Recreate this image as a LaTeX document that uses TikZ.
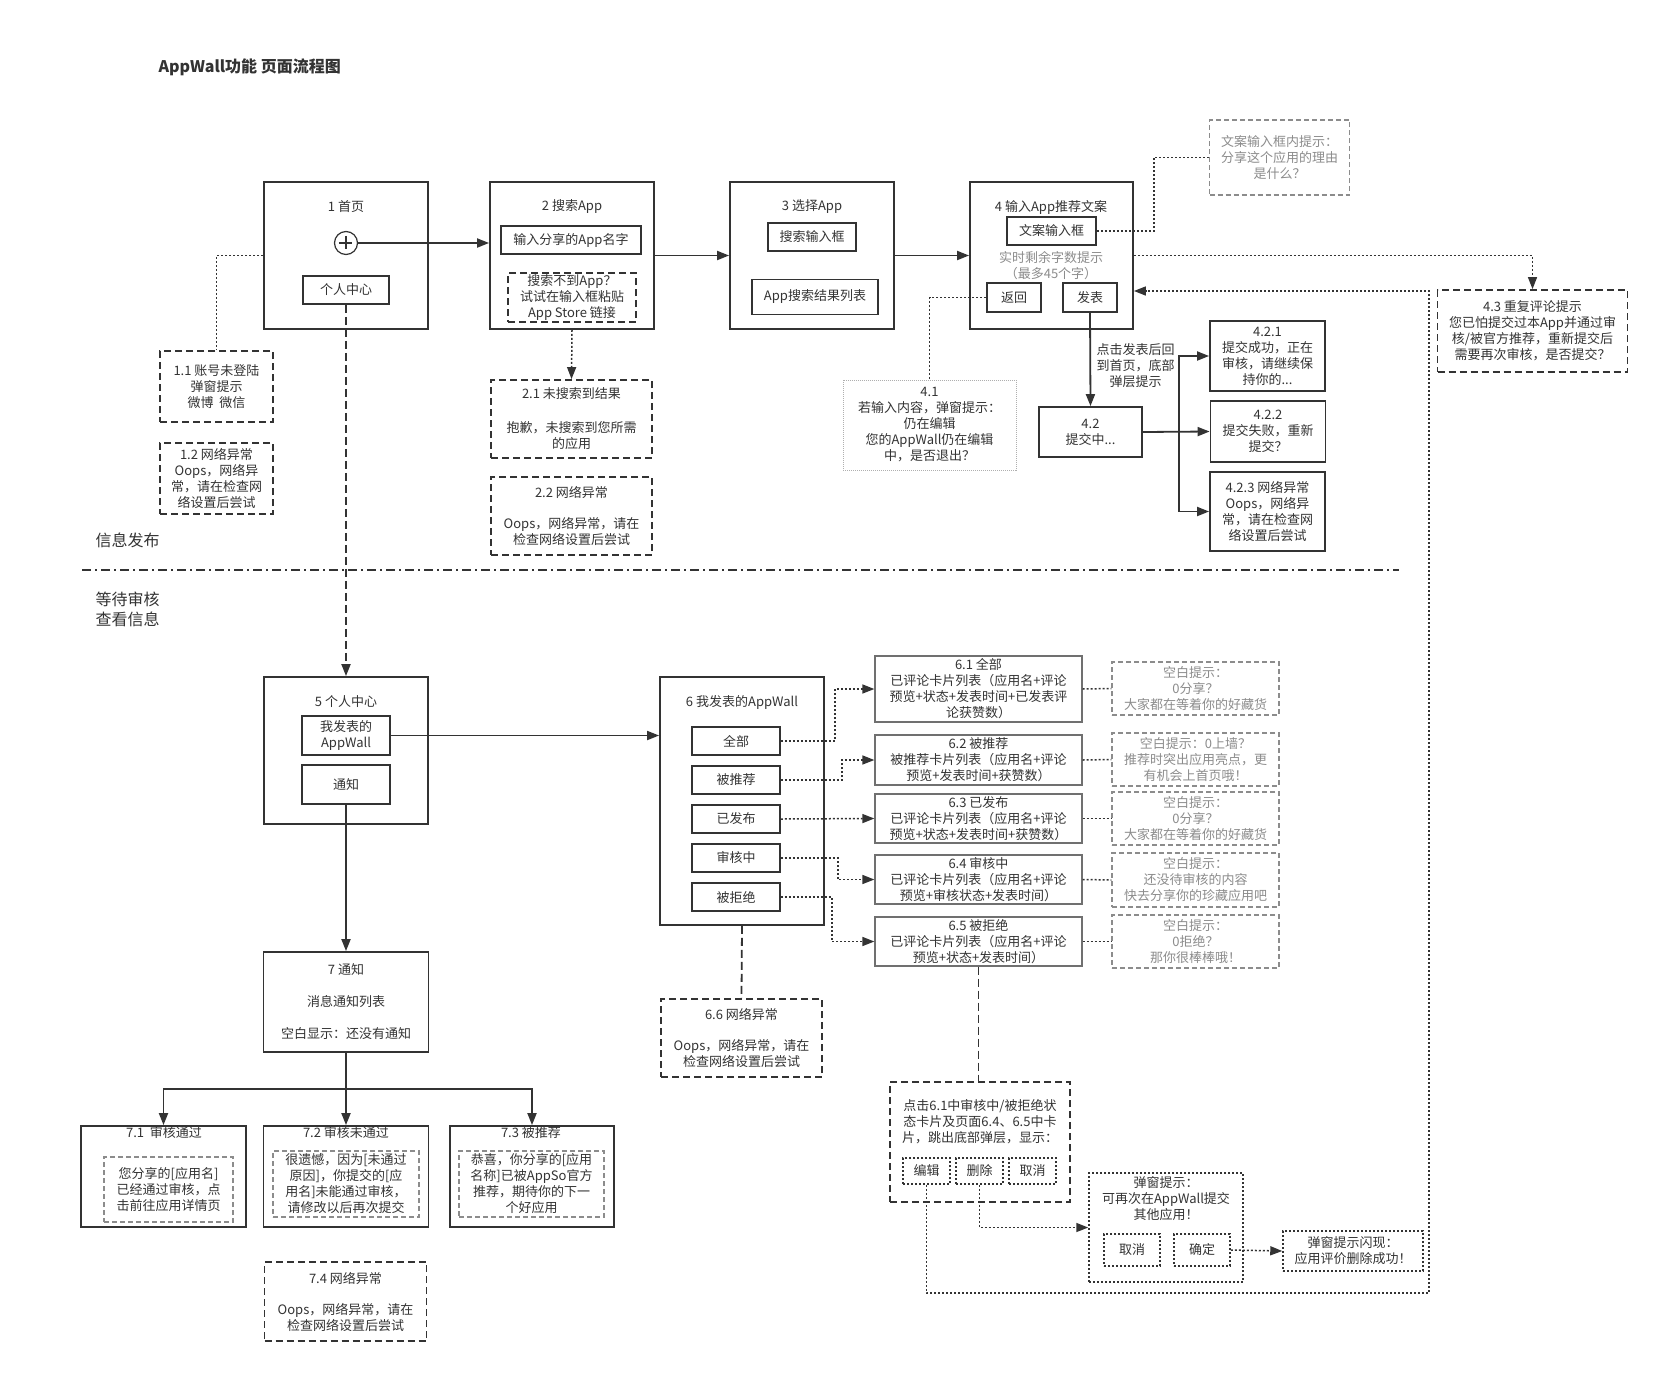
\documentclass[tikz,border=0pt]{standalone}
\usepackage{fontspec}
\setmainfont{Noto Sans CJK SC}
\usetikzlibrary{arrows.meta,positioning}
\definecolor{ink}{HTML}{333333}
\definecolor{mute}{HTML}{8C8C8C}
\newcommand{\bodysize}{\fontsize{13}{16}\selectfont}
\newcommand{\headsize}{\fontsize{16}{20}\selectfont}

\begin{document}
\begin{tikzpicture}[x=1pt,y=-1pt,font=\bodysize,color=ink,>={Triangle[length=12pt,width=9pt]},
 page/.style={draw,line width=1.8pt,inner sep=0pt,minimum width=164pt,minimum height=147pt},
 btn/.style={draw,line width=1.6pt,inner sep=0pt,align=center},
 solidbox/.style={draw,line width=1.8pt,inner sep=0pt,align=center},
 dashbox/.style={draw,line width=1.8pt,dash pattern=on 7pt off 4pt,inner sep=0pt,align=center},
 tipbox/.style={draw=mute,line width=1.2pt,dash pattern=on 5pt off 3pt,text=mute,inner sep=0pt,align=center},
 dotbox/.style={draw,line width=1.5pt,dash pattern=on 2pt off 2pt,inner sep=0pt,align=center},
 lightdot/.style={draw=mute!70,line width=.8pt,dash pattern=on 1pt off 1pt,inner sep=0pt,align=center},
 card/.style={draw=ink!70,line width=1.3pt,inner sep=0pt,align=center,minimum width=207pt},
 flow/.style={line width=1.8pt},
 dotline/.style={line width=1.5pt,dash pattern=on 2pt off 2pt},
 dashline/.style={line width=1.8pt,dash pattern=on 8pt off 4pt}]
\useasboundingbox (0,0) rectangle (1659,1373);
\fill[white] (0,0) rectangle (1659,1373);

\node[anchor=west,font=\headsize\bfseries] (title) at (155,67) {AppWall功能 页面流程图};

% publish flow
\node[page] (home) at (346,255.5) {};
\node (homeT) at (346,207) {1 首页};
\node[draw,circle,line width=1.2pt,minimum size=23pt,inner sep=0pt] (plus) at (346,243) {};
\draw[line width=1.2pt] (plus.west) ++(5,0) -- ++(13,0);
\draw[line width=1.2pt] (plus.north) ++(0,5) -- ++(0,13);
\node[btn,minimum width=86pt,minimum height=28pt] (meEntry) at (346,290) {个人中心};

\node[page] (search) at (572,255.5) {};
\node (searchT) at (572,207) {2 搜索App};
\node[btn,minimum width=140pt,minimum height=28pt] (nameInput) at (571,240) {输入分享的App名字};
\node[dashbox,line width=1.6pt,minimum width=128pt,minimum height=49pt] (pasteTip) at (572,297.5) {搜索不到App？\\试试在输入框粘贴\\App Store 链接};

\node[page] (choose) at (812,255.5) {};
\node (chooseT) at (812,207) {3 选择App};
\node[btn,minimum width=88pt,minimum height=28pt] (searchInput) at (812,237) {搜索输入框};
\node[btn,minimum width=126pt,minimum height=35pt] (resultList) at (815,297) {App搜索结果列表};

\node[page,minimum width=163pt] (write) at (1051.5,255.5) {};
\node (writeT) at (1051,207) {4 输入App推荐文案};
\node[btn,minimum width=89pt,minimum height=28pt] (copyInput) at (1051.5,231) {文案输入框};
\node[text=mute,align=center] (counter) at (1051,265.5) {实时剩余字数提示\\（最多45个字）};
\node[btn,minimum width=54pt,minimum height=29pt] (backBtn) at (1014,297.5) {返回};
\node[btn,minimum width=54pt,minimum height=29pt] (postBtn) at (1090,297.5) {发表};

\node[tipbox,minimum width=140pt,minimum height=75pt] (copyHint) at (1279.5,157.5) {文案输入框内提示：\\分享这个应用的理由\\是什么？};
\node[dashbox,minimum width=190pt,minimum height=82pt] (repeat) at (1532.5,331) {4.3 重复评论提示\\您已怕提交过本App并通过审\\核/被官方推荐，重新提交后\\需要再次审核，是否提交？};
\node[lightdot,minimum width=173pt,minimum height=90pt] (leaveTip) at (929.5,425) {4.1\\若输入内容，弹窗提示：\\仍在编辑\\您的AppWall仍在编辑\\中，是否退出？};

\node[solidbox,minimum width=103pt,minimum height=50pt] (posting) at (1090.5,432) {4.2\\提交中...};
\node[solidbox,minimum width=115pt,minimum height=70pt] (sent) at (1267.5,356) {4.2.1\\提交成功，正在\\审核，请继续保\\持你的...};
\node[solidbox,minimum width=115pt,minimum height=61pt] (failed) at (1268,431.5) {4.2.2\\提交失败，重新\\提交？};
\node[solidbox,minimum width=115pt,minimum height=79pt] (postNet) at (1267.5,511.5) {4.2.3 网络异常\\Oops，网络异\\常，请在检查网\\络设置后尝试};

\node[dashbox,minimum width=113pt,minimum height=71pt] (login) at (216.5,386.5) {1.1 账号未登陆\\弹窗提示\\微博\ \ 微信};
\node[dashbox,minimum width=113pt,minimum height=71pt] (homeNet) at (216.5,478.5) {1.2 网络异常\\Oops，网络异\\常，请在检查网\\络设置后尝试};
\node[dashbox,minimum width=161pt,minimum height=78pt] (noResult) at (571.5,419) {2.1 未搜索到结果\\[18pt]抱歉，未搜索到您所需\\的应用};
\node[dashbox,minimum width=161pt,minimum height=78pt] (searchNet) at (571.5,516) {2.2 网络异常\\[15pt]Oops，网络异常，请在\\检查网络设置后尝试};

% lanes
\node[anchor=west,font=\headsize] (pubLabel) at (92,540) {信息发布};
\node[anchor=west,font=\headsize,align=left] (waitLabel) at (92,609) {等待审核\\查看信息};
\draw[line width=1.5pt,dash pattern=on 9pt off 4pt on 2pt off 4pt] (82,570) -- (1399,570);

% review flow
\node[page] (me) at (346,750.5) {};
\node (meT) at (346,702) {5 个人中心};
\node[btn,minimum width=88pt,minimum height=39pt] (myWallBtn) at (346,735.5) {我发表的\\AppWall};
\node[btn,minimum width=88pt,minimum height=39pt] (noticeBtn) at (346,784.5) {通知};

\node[page,minimum height=248pt] (wall) at (742,801) {};
\node (wallT) at (742,702) {6 我发表的AppWall};
\node[btn,minimum width=88pt,minimum height=28pt] (tabAll) at (736,741) {全部};
\node[btn,minimum width=88pt,minimum height=28pt] (tabRec) at (736,780) {被推荐};
\node[btn,minimum width=88pt,minimum height=28pt] (tabPub) at (736,819) {已发布};
\node[btn,minimum width=88pt,minimum height=28pt] (tabRev) at (736,858) {审核中};
\node[btn,minimum width=88pt,minimum height=28pt] (tabRej) at (736,897) {被拒绝};

\node[card,minimum height=66pt] (allList) at (978.5,689) {6.1 全部\\已评论卡片列表（应用名+评论\\预览+状态+发表时间+已发表评\\论获赞数）};
\node[card,minimum height=50pt] (recList) at (978.5,760) {6.2 被推荐\\被推荐卡片列表（应用名+评论\\预览+发表时间+获赞数）};
\node[card,minimum height=49pt] (pubList) at (978.5,818.5) {6.3 已发布\\已评论卡片列表（应用名+评论\\预览+状态+发表时间+获赞数）};
\node[card,minimum height=49pt] (revList) at (978.5,879.5) {6.4 审核中\\已评论卡片列表（应用名+评论\\预览+审核状态+发表时间）};
\node[card,minimum height=49pt] (rejList) at (978.5,941.5) {6.5 被拒绝\\已评论卡片列表（应用名+评论\\预览+状态+发表时间）};

\node[tipbox,minimum width=167pt,minimum height=53pt] (allEmpty) at (1195.5,688.5) {空白提示：\\0分享？\\大家都在等着你的好藏货};
\node[tipbox,minimum width=167pt,minimum height=53pt] (recEmpty) at (1195.5,759.5) {空白提示：0上墙？\\推荐时突出应用亮点，更\\有机会上首页哦！};
\node[tipbox,minimum width=167pt,minimum height=53pt] (pubEmpty) at (1195.5,818.5) {空白提示：\\0分享？\\大家都在等着你的好藏货};
\node[tipbox,minimum width=167pt,minimum height=54pt] (revEmpty) at (1195.5,880) {空白提示：\\还没待审核的内容\\快去分享你的珍藏应用吧};
\node[tipbox,minimum width=167pt,minimum height=53pt] (rejEmpty) at (1195.5,941.5) {空白提示：\\0拒绝？\\那你很棒棒哦！};

\node[dashbox,minimum width=161pt,minimum height=78pt] (wallNet) at (741.5,1038) {6.6 网络异常\\[15pt]Oops，网络异常，请在\\检查网络设置后尝试};

\node[dashbox,minimum width=180pt,minimum height=120pt] (action) at (980,1142) {};
\node[align=center] (actionT) at (980,1122) {点击6.1中审核中/被拒绝状\\态卡片及页面6.4、6.5中卡\\片，跳出底部弹层，显示：};
\node[dotbox,minimum width=47pt,minimum height=26pt] (editBtn) at (926.5,1171) {编辑};
\node[dotbox,minimum width=47pt,minimum height=26pt] (delBtn) at (979.5,1171) {删除};
\node[dotbox,minimum width=47pt,minimum height=26pt] (quitBtn) at (1032.5,1171) {取消};

\node[dotbox,minimum width=154pt,minimum height=109pt] (confirm) at (1166,1227.5) {};
\node[align=center] (confirmT) at (1166,1199) {弹窗提示：\\可再次在AppWall提交\\其他应用！};
\node[dotbox,minimum width=56pt,minimum height=32pt] (popCancel) at (1132,1250) {取消};
\node[dotbox,minimum width=56pt,minimum height=32pt] (popOk) at (1202,1250) {确定};
\node[dotbox,minimum width=140pt,minimum height=40pt] (flash) at (1353,1251) {弹窗提示闪现：\\应用评价删除成功！};

\node[solidbox,minimum width=165pt,minimum height=100pt] (notes) at (346,1002) {7 通知\\[16pt]消息通知列表\\[16pt]空白显示：还没有通知};
\node[solidbox,minimum width=165pt,minimum height=101pt] (notePass) at (163.5,1176.5) {};
\node (notePassT) at (164,1133) {7.1\ \ 审核通过};
\node[tipbox,text=ink,minimum width=129pt,minimum height=65pt] (passMsg) at (168.5,1189.5) {您分享的[应用名]\\已经通过审核，点\\击前往应用详情页};
\node[solidbox,minimum width=165pt,minimum height=101pt] (noteFail) at (346,1176.5) {};
\node (noteFailT) at (346,1133) {7.2 审核未通过};
\node[tipbox,text=ink,minimum width=146pt,minimum height=66pt] (failMsg) at (346,1184) {很遗憾，因为[未通过\\原因]，你提交的[应\\用名]未能通过审核，\\请修改以后再次提交};
\node[solidbox,minimum width=164pt,minimum height=101pt] (noteRec) at (532,1176.5) {};
\node (noteRecT) at (531,1133) {7.3 被推荐};
\node[tipbox,text=ink,minimum width=145pt,minimum height=66pt] (recMsg) at (531.5,1184) {恭喜，你分享的[应用\\名称]已被AppSo官方\\推荐，期待你的下一\\个好应用};
\node[dashbox,minimum width=162pt,minimum height=79pt] (noteNet) at (345.5,1301.5) {7.4 网络异常\\[15pt]Oops，网络异常，请在\\检查网络设置后尝试};

% connectors
\draw[flow,->] (plus) -- (search.west |- plus);
\draw[dotline] (home.west) -| (login.north);
\draw[flow,->] (search.east) -- (choose.west);
\draw[flow,->] (choose.east) -- (write.west);
\draw[dotline,->] (search.south) -- (noResult.north);
\draw[dotline] (copyInput.east) -- ++(57,0) |- (copyHint.west);
\draw[dotline,->] (write.east) -| (repeat.north);
\draw[dotline] (backBtn.west) -| (leaveTip.north);
\draw[flow,->] (postBtn.south) -- node[pos=.57,right=2pt,align=center]{点击发表后回\\到首页，底部\\弹层提示} (posting.north);
\draw[flow,->] (posting.east) -- (failed.west);
\draw[flow,->] (posting.east) ++(36,0) |- (sent.west);
\draw[flow,->] (posting.east) ++(36,0) |- (postNet.west);

\draw[dashline,->] (meEntry.south) -- (me.north);
\draw[flow,->] (myWallBtn.east) -- (wall.west |- myWallBtn.east);
\draw[flow,->] (noticeBtn.south) -- (notes.north);
\coordinate (fork) at (346,1089);
\draw[flow] (notes.south) -- (fork);
\draw[flow,->] (fork) -| (notePass.north);
\draw[flow,->] (fork) -- (noteFail.north);
\draw[flow,->] (fork) -| (noteRec.north);

\draw[dotline,->] (tabAll.east) -- ++(54,0) |- (allList.west);
\draw[dotline,->] (tabRec.east) -- ++(61,0) |- (recList.west);
\draw[dotline,->] (tabPub.east) -- (pubList.west);
\draw[dotline,->] (tabRev.east) -- ++(57,0) |- (revList.west);
\draw[dotline,->] (tabRej.east) -- ++(51,0) |- (rejList.west);
\draw[dotline] (allList.east) -- (allEmpty.west);
\draw[dotline] (recList.east) -- (recEmpty.west);
\draw[dotline] (pubList.east) -- (pubEmpty.west);
\draw[dotline] (revList.east) -- (revEmpty.west);
\draw[dotline] (rejList.east) -- (rejEmpty.west);

\draw[dashline] (wall.south) -- (wallNet.north);
\draw[dashline] (rejList.south) -- (rejList.south |- action.north);
\draw[dotline,->] (delBtn.south) |- (confirm.west);
\draw[dotline,->] (popOk.east) -- (flash.west);
\coordinate (loopLow) at (1429,1293);
\coordinate (loopHigh) at (1429,291);
\draw[dotline,->] (editBtn.south) |- (loopLow) -- (loopHigh) -- (write.east |- loopHigh);
\end{tikzpicture}
\end{document}
